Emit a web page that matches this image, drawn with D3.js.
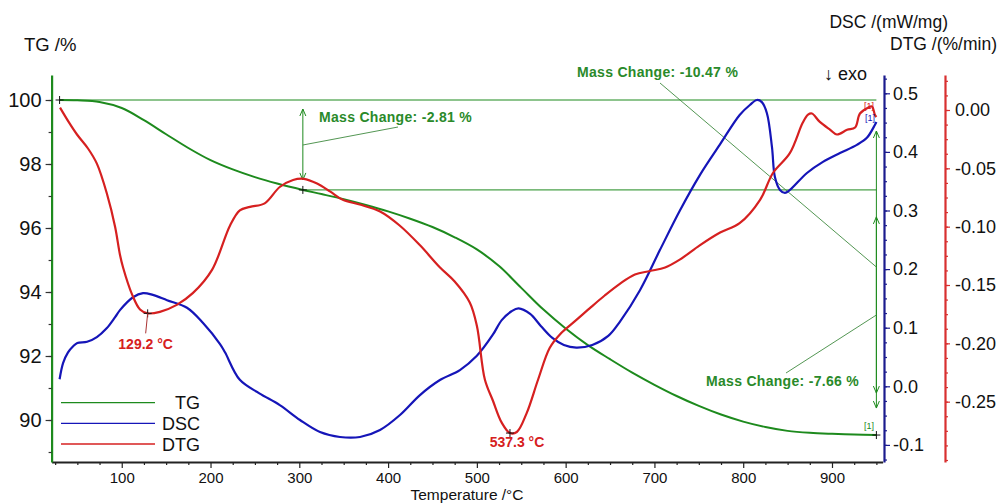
<!DOCTYPE html>
<html>
<head>
<meta charset="utf-8">
<script src="https://cdn.jsdelivr.net/npm/d3@7"></script>
<style>
  html, body { margin: 0; padding: 0; background: #fff; }
  svg { display: block; font-family: "Liberation Sans", Arial, sans-serif; }
</style>
</head>
<body>
<script>
// ---- data: [temperature °C, value] ----
const tgData = [
  [30,100.00],[50,99.99],[75,99.94],[100,99.75],[125,99.37],[150,98.93],[175,98.50],
  [200,98.12],[225,97.83],[250,97.59],[275,97.39],[304,97.19],[325,97.06],[350,96.90],
  [375,96.72],[400,96.52],[425,96.29],[450,96.03],[475,95.71],[500,95.33],[525,94.81],
  [550,94.13],[575,93.45],[600,92.86],[625,92.34],[650,91.90],[675,91.48],[700,91.10],
  [725,90.75],[750,90.44],[775,90.17],[800,89.95],[825,89.78],[850,89.66],[875,89.60],
  [900,89.57],[925,89.55],[950,89.53]
];
const dscData = [
  [30,0.012],[34,0.040],[39.5,0.058],[45,0.068],[50,0.074],[61,0.076],[72,0.084],
  [83,0.099],[92.5,0.118],[98,0.130],[112.7,0.152],[124,0.159],[135,0.156],[151,0.147],
  [173.5,0.134],[191.6,0.108],[210.7,0.072],[216.3,0.058],[233,0.011],[255,-0.012],
  [278,-0.032],[300.8,-0.0575],[323.3,-0.078],[345.8,-0.0865],[368.4,-0.0865],
  [390.9,-0.0745],[413.4,-0.049],[435.9,-0.015],[458.4,0.0107],[480.9,0.0277],
  [500,0.052],[518,0.088],[528,0.113],[539,0.128],[547,0.133],[560,0.1235],
  [572,0.103],[585,0.0825],[598,0.0705],[612,0.066],[630,0.0705],[648,0.086],
  [661,0.110],[683.7,0.164],[706,0.232],[728.7,0.300],[751,0.360],[773.5,0.412],
  [796,0.463],[807.5,0.480],[815.4,0.4886],[821,0.485],[826.7,0.466],[832.4,0.408],
  [835.7,0.357],[841.4,0.335],[847,0.330],[852.6,0.335],[871.8,0.364],[889.8,0.383],
  [909,0.398],[928,0.412],[939.3,0.424],[948.3,0.446],[950,0.451]
];
const dtgData = [
  [30.5,0.002],[40,-0.010],[49.6,-0.021],[62,-0.033],[72,-0.046],[83.4,-0.072],
  [92.5,-0.100],[98,-0.124],[101.5,-0.135],[111.6,-0.158],[120.6,-0.171],[129.2,-0.1743],
  [143,-0.173],[162,-0.167],[180,-0.157],[201.7,-0.137],[222,-0.099],[233,-0.086],
  [244.5,-0.083],[261,-0.080],[278,-0.066],[293,-0.060],[305,-0.059],[320,-0.063],
  [335,-0.070],[349,-0.077],[368,-0.081],[391,-0.087],[413,-0.099],[436,-0.116],
  [458.5,-0.135],[475,-0.147],[492,-0.165],[500,-0.185],[509,-0.231],[518,-0.249],
  [528,-0.268],[537.3,-0.2769],[545,-0.276],[556,-0.260],[569,-0.231],[582,-0.204],
  [594,-0.192],[610.5,-0.181],[627,-0.170],[644,-0.159],[661,-0.149],[678,-0.141],
  [695,-0.138],[712,-0.135],[729,-0.128],[751,-0.116],[774,-0.105],[796,-0.097],
  [819,-0.077],[833.5,-0.054],[852.5,-0.037],[867,-0.011],[873,-0.004],[877.4,-0.003],
  [886,-0.010],[898,-0.017],[905.5,-0.021],[917,-0.017],[926,-0.015],[931.5,-0.003],
  [940.5,0.002],[945,0.003],[948.3,-0.004],[950,-0.006]
];

// axis ticks
const tempTicks = [100,200,300,400,500,600,700,800,900];
const tgTicks = [90,92,94,96,98,100];
const dscTicks = [-0.1,0.0,0.1,0.2,0.3,0.4,0.5];
const dtgTicks = [0.00,-0.05,-0.10,-0.15,-0.20,-0.25];

// evaluated TG points [°C, %] used for the mass change steps
const massPoints = [[30,100.00],[304,97.19],[950,89.53]];
// DTG peak temperatures [°C, %/min]
const dtgPeaks = [[129.2,-0.1743],[537.3,-0.2769]];

const legendItems = ["TG","DSC","DTG"];

// ---- layout ----
const W = 1001, H = 504;
const C = { tg: "#1d8a1d", dsc: "#1515b8", dtg: "#d62020",
            dscAxis: "#1b1b8e", dtgAxis: "#d83030", note: "#2a8a2a", text: "#111" };

const x = d3.scaleLinear().domain([21, 957]).range([51.6, 882.6]);
const yTG = d3.scaleLinear().domain([88.6875, 100.78125]).range([462, 75]);
const yDSC = d3.scaleLinear().domain([-0.12918, 0.53123]).range([462, 75]);
const yDTG = d3.scaleLinear().domain([-0.30171, 0.03000]).range([462, 75]);

const svg = d3.select("body").append("svg").attr("width", W).attr("height", H);
svg.append("rect").attr("width", W).attr("height", H).attr("fill", "#fff");

function styleAxis(g, color, width, fontSize) {
  g.select(".domain").attr("stroke", color).attr("stroke-width", width);
  g.selectAll(".tick line").attr("stroke", color).attr("stroke-width", 1.2);
  g.selectAll(".tick text").attr("fill", C.text).attr("font-size", fontSize)
    .attr("font-family", '"Liberation Sans", Arial, sans-serif');
}
const range = (a, b, s) => d3.range(a, b + s / 2, s);

// bottom temperature axis
const xMinor = svg.append("g").attr("transform", "translate(0,462)")
  .call(d3.axisBottom(x).tickValues(range(25, 950, 25).filter(v => v % 100 !== 0))
    .tickSize(3).tickSizeOuter(0).tickFormat(""));
styleAxis(xMinor, "#222", 2, 15);
const xMajor = svg.append("g").attr("transform", "translate(0,462)")
  .call(d3.axisBottom(x).tickValues(tempTicks).tickSize(6).tickSizeOuter(0).tickPadding(4));
styleAxis(xMajor, "#222", 2, 15);
xMajor.select(".domain").remove();

// left TG axis
const tgMinor = svg.append("g").attr("transform", `translate(${x.range()[0]},0)`)
  .call(d3.axisLeft(yTG).tickValues(range(89, 100, 1)).tickSize(3).tickSizeOuter(0).tickFormat(""));
styleAxis(tgMinor, C.tg, 2.2, 20);
const tgAxis = svg.append("g").attr("transform", `translate(${x.range()[0]},0)`)
  .call(d3.axisLeft(yTG).tickValues(tgTicks).tickSize(6).tickSizeOuter(0).tickPadding(4)
    .tickFormat(d => d.toFixed(0)));
styleAxis(tgAxis, C.tg, 2.2, 20);
tgAxis.select(".domain").remove();
tgAxis.selectAll(".tick line").attr("stroke", "#333");
tgMinor.selectAll(".tick line").attr("stroke", "#333");

// right DSC axis
const dscX = 884;
const dscMinor = svg.append("g").attr("transform", `translate(${dscX},0)`)
  .call(d3.axisRight(yDSC).tickValues(range(-0.125, 0.525, 0.025)).tickSize(3).tickSizeOuter(0).tickFormat(""));
styleAxis(dscMinor, C.dscAxis, 2.2, 18);
const dscAxis = svg.append("g").attr("transform", `translate(${dscX},0)`)
  .call(d3.axisRight(yDSC).tickValues(dscTicks).tickSize(6).tickSizeOuter(0).tickPadding(3)
    .tickFormat(d => d.toFixed(1)));
styleAxis(dscAxis, C.dscAxis, 2.2, 18);
dscAxis.select(".domain").remove();

// right DTG axis
const dtgX = 945;
const dtgMinor = svg.append("g").attr("transform", `translate(${dtgX},0)`)
  .call(d3.axisRight(yDTG).tickValues(range(-0.3, 0.025, 0.0125)).tickSize(3).tickSizeOuter(0).tickFormat(""));
styleAxis(dtgMinor, C.dtgAxis, 2.2, 18);
const dtgAxis = svg.append("g").attr("transform", `translate(${dtgX},0)`)
  .call(d3.axisRight(yDTG).tickValues(dtgTicks).tickSize(5).tickSizeOuter(0).tickPadding(5)
    .tickFormat(d => d.toFixed(2)));
styleAxis(dtgAxis, C.dtgAxis, 2.2, 18);
dtgAxis.select(".domain").remove();

// axis titles
const label = (t, px, py, size, anchor = "start", fill = C.text, weight = "normal") =>
  svg.append("text").attr("x", px).attr("y", py).attr("font-size", size)
    .attr("text-anchor", anchor).attr("fill", fill).attr("font-weight", weight).text(t);
label("TG /%", 24, 51, 18.5);
label("DSC /(mW/mg)", 948, 28, 17.5, "end");
label("DTG /(%/min)", 997, 50, 17.5, "end");
label("Temperature /°C", 467, 500, 15.5, "middle");
label("↓ exo", 824, 80, 18);

// mass change guides
const g = svg.append("g").attr("fill", "none");
const xEnd = x(massPoints[2][0]);
g.append("line").attr("x1", x(massPoints[0][0])).attr("x2", xEnd)
  .attr("y1", yTG(massPoints[0][1])).attr("y2", yTG(massPoints[0][1]))
  .attr("stroke", C.tg).attr("stroke-width", 1);
g.append("line").attr("x1", x(massPoints[1][0])).attr("x2", xEnd)
  .attr("y1", yTG(massPoints[1][1])).attr("y2", yTG(massPoints[1][1]))
  .attr("stroke", C.tg).attr("stroke-width", 1);

function arrow(ax, yTop, yBot) {
  g.append("line").attr("x1", ax).attr("x2", ax).attr("y1", yTop).attr("y2", yBot)
    .attr("stroke", C.tg).attr("stroke-width", 1);
  g.append("path").attr("d", `M${ax - 3},${yTop + 7}L${ax},${yTop}L${ax + 3},${yTop + 7}`)
    .attr("stroke", C.tg).attr("stroke-width", 1);
  g.append("path").attr("d", `M${ax - 3},${yBot - 7}L${ax},${yBot}L${ax + 3},${yBot - 7}`)
    .attr("stroke", C.tg).attr("stroke-width", 1);
}
const y0 = yTG(massPoints[0][1]), y1 = yTG(massPoints[1][1]), y2 = yTG(massPoints[2][1]);
arrow(x(massPoints[1][0]), y0 + 9, y1 - 10);
arrow(xEnd, y0 + 31, y2 - 27);
arrow(xEnd, y1 + 27, y2 - 42);

const leader = (a, b, c, d) => g.append("line").attr("x1", a).attr("y1", b).attr("x2", c).attr("y2", d)
  .attr("stroke", "#3f8a3f").attr("stroke-width", 0.9);
leader(x(massPoints[1][0]), 145, 398, 127);
leader(660, 83, xEnd, 267);
leader(786, 373, xEnd, 315);

const mc = (a, b) => `Mass Change: ${(massPoints[b][1] - massPoints[a][1]).toFixed(2)} %`;
const note = (t, px, py) => label(t, px, py, 14, "start", C.note, "bold").attr("letter-spacing", 0.3);
note(mc(0, 1), 319, 122);
note(mc(0, 2), 577, 77);
note(mc(1, 2), 706, 386);

// curves
const line = (ys) => d3.line().x(d => x(d[0])).y(d => ys(d[1])).curve(d3.curveCatmullRom.alpha(0.5));
svg.append("path").datum(tgData).attr("d", line(yTG)).attr("fill", "none")
  .attr("stroke", C.tg).attr("stroke-width", 2);
svg.append("path").datum(dscData).attr("d", line(yDSC)).attr("fill", "none")
  .attr("stroke", C.dsc).attr("stroke-width", 2.2);
svg.append("path").datum(dtgData).attr("d", line(yDTG)).attr("fill", "none")
  .attr("stroke", C.dtg).attr("stroke-width", 2.2);

// markers
function plus(px, py) {
  svg.append("path").attr("d", `M${px - 4},${py}H${px + 4}M${px},${py - 4}V${py + 4}`)
    .attr("stroke", "#111").attr("stroke-width", 1).attr("fill", "none");
}
massPoints.forEach(d => plus(x(d[0]), yTG(d[1])));
dtgPeaks.forEach(d => plus(x(d[0]), yDTG(d[1])));

// peak labels
const p1 = dtgPeaks[0], p2 = dtgPeaks[1];
svg.append("line").attr("x1", x(p1[0])).attr("y1", yDTG(p1[1]))
  .attr("x2", x(p1[0]) - 2).attr("y2", yDTG(p1[1]) + 20)
  .attr("stroke", "#a33").attr("stroke-width", 1);
label(`${p1[0].toFixed(1)} °C`, x(p1[0]) - 2, yDTG(p1[1]) + 36, 14, "middle", C.dtg, "bold");
label(`${p2[0].toFixed(1)} °C`, x(p2[0]) + 7, yDTG(p2[1]) + 14, 14, "middle", C.dtg, "bold");

// end-of-segment tags
label("[1]", 864, 429, 9, "start", C.tg);
label("[1]", 864, 109, 9, "start", C.dtg);
label("[1]", 865, 121, 9, "start", C.dsc);

// legend
const legColors = [C.tg, C.dsc, C.dtg];
const legY = [402.7, 423.3, 444];
legendItems.forEach((name, i) => {
  svg.append("line").attr("x1", 61).attr("x2", 155).attr("y1", legY[i]).attr("y2", legY[i])
    .attr("stroke", legColors[i]).attr("stroke-width", 1.3);
  label(name, 200, legY[i] + 6.5, 18, "end");
});
</script>
</body>
</html>
